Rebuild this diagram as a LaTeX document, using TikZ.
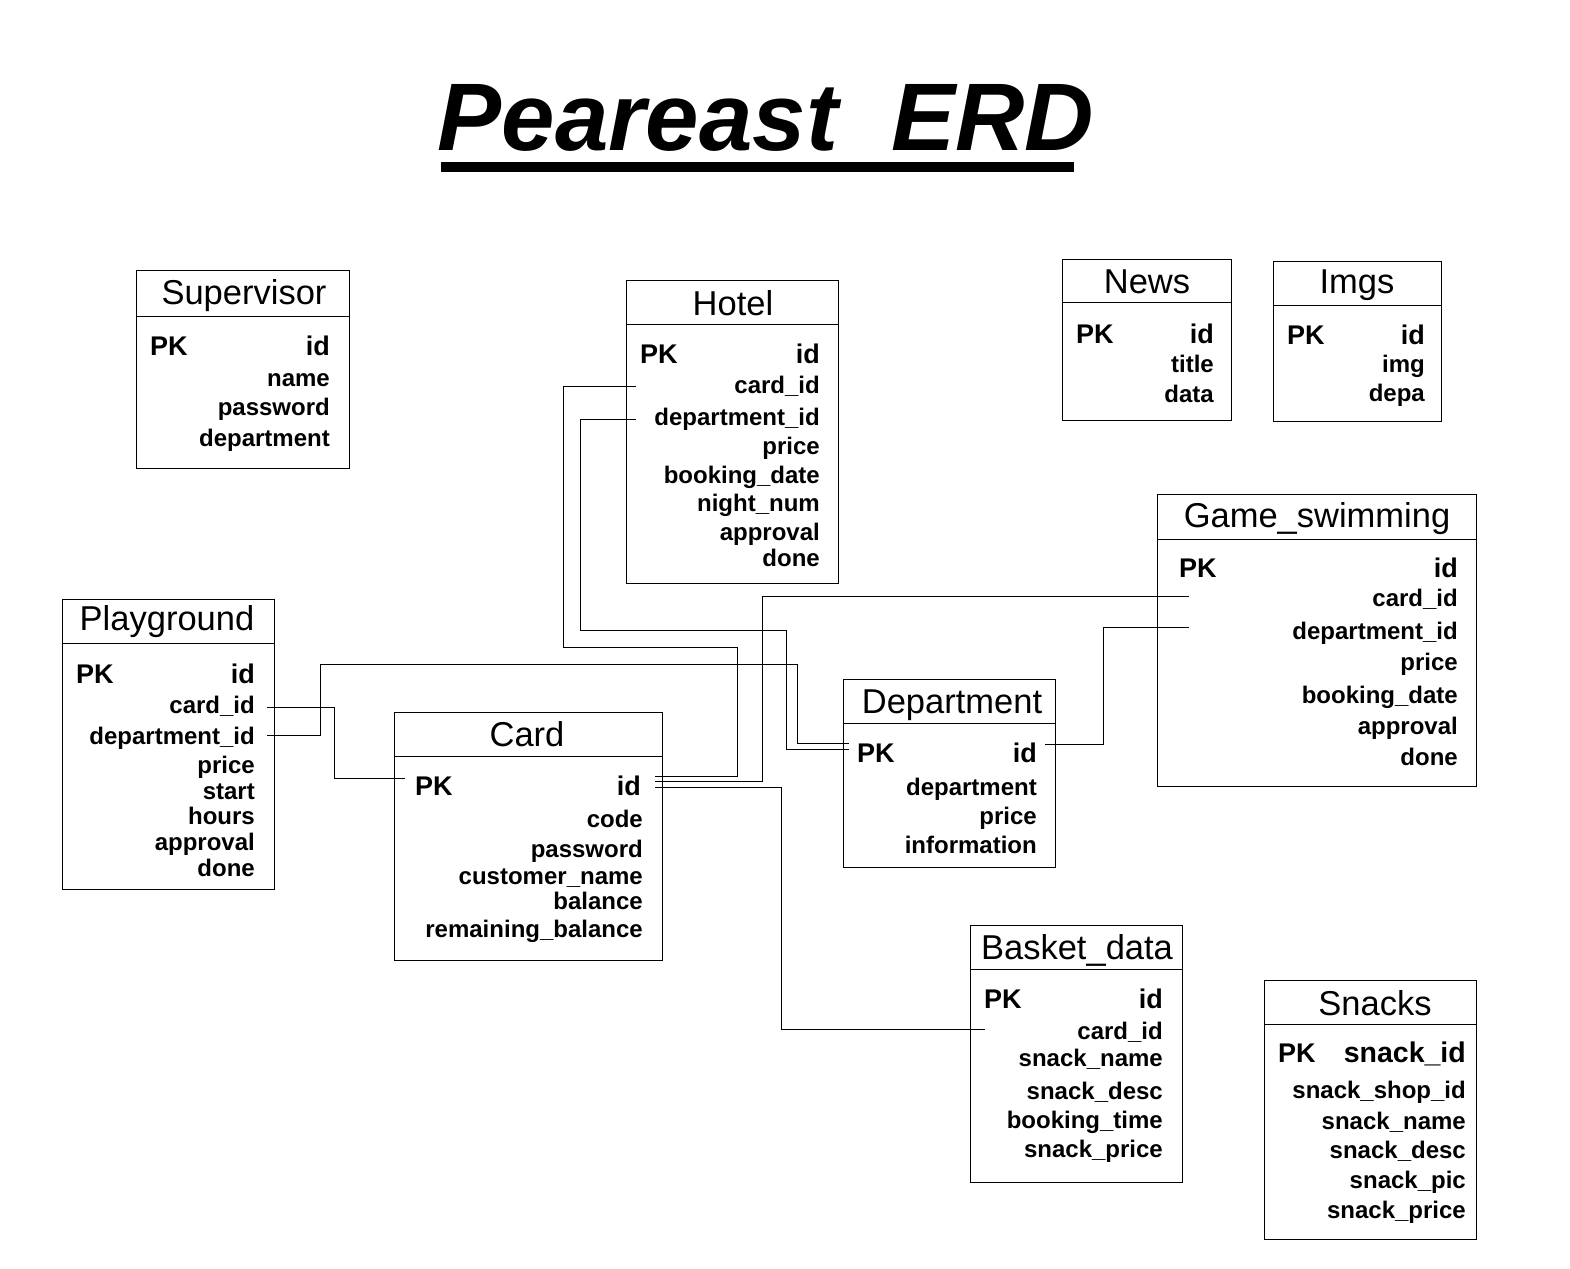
\documentclass[tikz,border=0pt]{standalone}
\usepackage{fontspec}
\setmainfont{Liberation Sans}
\usepackage{tikz}
\usetikzlibrary{calc}
\tikzset{
    tbl/.style={
        draw,
        line width=1pt,
        inner sep=0pt
    },
    tbltitle/.style={
        anchor=base,
        inner sep=0pt,
        font=\fontsize{34.5}{40}\selectfont
    },
    pkey/.style={
        anchor=base west,
        inner sep=0pt,
        font=\fontsize{27}{31}\selectfont\bfseries
    },
    pkid/.style={
        anchor=base east,
        inner sep=0pt,
        font=\fontsize{27}{31}\selectfont\bfseries
    },
    fld/.style={
        anchor=base east,
        inner sep=0pt,
        font=\fontsize{24}{28}\selectfont\bfseries
    },
    link/.style={
        line width=1pt
    }
}

\begin{document}
\begin{tikzpicture}[x=1pt,y=-1pt]

    \useasboundingbox (0,0) rectangle (1570,1268);
    \fill[white] (0,0) rectangle (1570,1268);

    %% heading
    \node (heading) [anchor=base,inner sep=0pt,font=\fontsize{96}{100}\selectfont\bfseries\itshape]
        at (766,151) {Peareast\ \ ERD};
    \fill (441,162) rectangle (1074,172);

    %% Supervisor
    \node (supervisor) [tbl,minimum width=213pt,minimum height=198pt] at (242.5,369) {};
    \draw ($(supervisor.north west)+(0,47)$) -- ($(supervisor.north east)+(0,47)$);
    \node (supervisor-title) [tbltitle] at (244,304) {Supervisor};
    \node (supervisor-pk) [pkey] at (150,355) {PK};
    \node (supervisor-id) [pkid] at (330,355) {id};
    \node (supervisor-name) [fld] at (330,386) {name};
    \node (supervisor-password) [fld] at (330,415) {password};
    \node (supervisor-department) [fld] at (330,446) {department};

    %% Hotel
    \node (hotel) [tbl,minimum width=212pt,minimum height=303pt] at (732,431.5) {};
    \draw ($(hotel.north west)+(0,45)$) -- ($(hotel.north east)+(0,45)$);
    \node (hotel-title) [tbltitle] at (733,315) {Hotel};
    \node (hotel-pk) [pkey] at (640,363) {PK};
    \node (hotel-id) [pkid] at (820,363) {id};
    \node (hotel-cardid) [fld] at (820,393) {card\_id};
    \node (hotel-deptid) [fld] at (820,425) {department\_id};
    \node (hotel-price) [fld] at (820,454) {price};
    \node (hotel-booking) [fld] at (820,483) {booking\_date};
    \node (hotel-nights) [fld] at (820,511) {night\_num};
    \node (hotel-approval) [fld] at (820,540) {approval};
    \node (hotel-done) [fld] at (820,566) {done};

    %% News
    \node (news) [tbl,minimum width=169pt,minimum height=161pt] at (1146.5,339.5) {};
    \draw ($(news.north west)+(0,44)$) -- ($(news.north east)+(0,44)$);
    \node (news-title) [tbltitle] at (1147,293) {News};
    \node (news-pk) [pkey] at (1076,343) {PK};
    \node (news-id) [pkid] at (1214,343) {id};
    \node (news-titlefld) [fld] at (1214,372) {title};
    \node (news-data) [fld] at (1214,402) {data};

    %% Imgs
    \node (imgs) [tbl,minimum width=168pt,minimum height=160pt] at (1357,341) {};
    \draw ($(imgs.north west)+(0,45)$) -- ($(imgs.north east)+(0,45)$);
    \node (imgs-title) [tbltitle] at (1357,293) {Imgs};
    \node (imgs-pk) [pkey] at (1287,344) {PK};
    \node (imgs-id) [pkid] at (1425,344) {id};
    \node (imgs-img) [fld] at (1425,372) {img};
    \node (imgs-depa) [fld] at (1425,401) {depa};

    %% Game_swimming
    \node (swim) [tbl,minimum width=319pt,minimum height=292pt] at (1316.5,640) {};
    \draw ($(swim.north west)+(0,46)$) -- ($(swim.north east)+(0,46)$);
    \node (swim-title) [tbltitle] at (1317,527) {Game\_swimming};
    \node (swim-pk) [pkey] at (1179,577) {PK};
    \node (swim-id) [pkid] at (1458,577) {id};
    \node (swim-cardid) [fld] at (1458,606) {card\_id};
    \node (swim-deptid) [fld] at (1458,639) {department\_id};
    \node (swim-price) [fld] at (1458,670) {price};
    \node (swim-booking) [fld] at (1458,703) {booking\_date};
    \node (swim-approval) [fld] at (1458,734) {approval};
    \node (swim-done) [fld] at (1458,765) {done};

    %% Playground
    \node (play) [tbl,minimum width=212pt,minimum height=290pt] at (168,744) {};
    \draw ($(play.north west)+(0,45)$) -- ($(play.north east)+(0,45)$);
    \node (play-title) [tbltitle] at (167,630) {Playground};
    \node (play-pk) [pkey] at (76,683) {PK};
    \node (play-id) [pkid] at (255,683) {id};
    \node (play-cardid) [fld] at (255,713) {card\_id};
    \node (play-deptid) [fld] at (255,744) {department\_id};
    \node (play-price) [fld] at (255,773) {price};
    \node (play-start) [fld] at (255,799) {start};
    \node (play-hours) [fld] at (255,824) {hours};
    \node (play-approval) [fld] at (255,850) {approval};
    \node (play-done) [fld] at (255,876) {done};

    %% Card
    \node (card) [tbl,minimum width=268pt,minimum height=248pt] at (528,836) {};
    \draw ($(card.north west)+(0,45)$) -- ($(card.north east)+(0,45)$);
    \node (card-title) [tbltitle] at (527,746) {Card};
    \node (card-pk) [pkey] at (415,795) {PK};
    \node (card-id) [pkid] at (641,795) {id};
    \node (card-code) [fld] at (643,827) {code};
    \node (card-password) [fld] at (643,857) {password};
    \node (card-customer) [fld] at (643,884) {customer\_name};
    \node (card-balance) [fld] at (643,909) {balance};
    \node (card-remaining) [fld] at (643,937) {remaining\_balance};

    %% Department
    \node (dept) [tbl,minimum width=212pt,minimum height=188pt] at (949,773) {};
    \draw ($(dept.north west)+(0,45)$) -- ($(dept.north east)+(0,45)$);
    \node (dept-title) [tbltitle] at (952,713) {Department};
    \node (dept-pk) [pkey] at (857,762) {PK};
    \node (dept-id) [pkid] at (1037,762) {id};
    \node (dept-department) [fld] at (1037,795) {department};
    \node (dept-price) [fld] at (1037,824) {price};
    \node (dept-info) [fld] at (1037,853) {information};

    %% Basket_data
    \node (basket) [tbl,minimum width=212pt,minimum height=257pt] at (1076,1053.5) {};
    \draw ($(basket.north west)+(0,45)$) -- ($(basket.north east)+(0,45)$);
    \node (basket-title) [tbltitle] at (1077,959) {Basket\_data};
    \node (basket-pk) [pkey] at (984,1008) {PK};
    \node (basket-id) [pkid] at (1163,1008) {id};
    \node (basket-cardid) [fld] at (1163,1039) {card\_id};
    \node (basket-name) [fld] at (1163,1066) {snack\_name};
    \node (basket-desc) [fld] at (1163,1099) {snack\_desc};
    \node (basket-time) [fld] at (1163,1128) {booking\_time};
    \node (basket-price) [fld] at (1163,1157) {snack\_price};

    %% Snacks
    \node (snacks) [tbl,minimum width=212pt,minimum height=259pt] at (1370,1109.5) {};
    \draw ($(snacks.north west)+(0,45)$) -- ($(snacks.north east)+(0,45)$);
    \node (snacks-title) [tbltitle] at (1375,1015) {Snacks};
    \node (snacks-pk) [pkey] at (1278,1062) {PK};
    \node (snacks-id) [pkid,font=\fontsize{28.5}{32}\selectfont\bfseries] at (1466,1062) {snack\_id};
    \node (snacks-shop) [fld] at (1466,1098) {snack\_shop\_id};
    \node (snacks-name) [fld] at (1466,1129) {snack\_name};
    \node (snacks-desc) [fld] at (1466,1158) {snack\_desc};
    \node (snacks-pic) [fld] at (1466,1188) {snack\_pic};
    \node (snacks-price) [fld] at (1466,1218) {snack\_price};

    %% link ends
    \coordinate (hotel-card-end) at (636,386);
    \coordinate (hotel-dept-end) at (636,419);
    \coordinate (play-card-end) at (267,707);
    \coordinate (play-dept-end) at (267,735);
    \coordinate (card-pk-end) at (405,778);
    \coordinate (card-id-a) at (655,776);
    \coordinate (card-id-b) at (655,781);
    \coordinate (card-id-c) at (655,787);
    \coordinate (dept-pk-a) at (849,743);
    \coordinate (dept-pk-b) at (849,749);
    \coordinate (dept-id-end) at (1045,744);
    \coordinate (swim-card-end) at (1189,596);
    \coordinate (swim-dept-end) at (1189,627);
    \coordinate (basket-card-end) at (985,1029);

    %% links
    \draw[link] (hotel-card-end) -| (563,647) -| (737,776) -- (card-id-a);
    \draw[link] (hotel-dept-end) -| (580,630) -| (786,749) -- (dept-pk-b);
    \draw[link] (play-dept-end) -| (320,664) -| (797,743) -- (dept-pk-a);
    \draw[link] (play-card-end) -| (334,778) -- (card-pk-end);
    \draw[link] (card-id-b) -| (762,596) -- (swim-card-end);
    \draw[link] (card-id-c) -| (781,1029) -- (basket-card-end);
    \draw[link] (dept-id-end) -| (1103,627) -- (swim-dept-end);

\end{tikzpicture}
\end{document}
